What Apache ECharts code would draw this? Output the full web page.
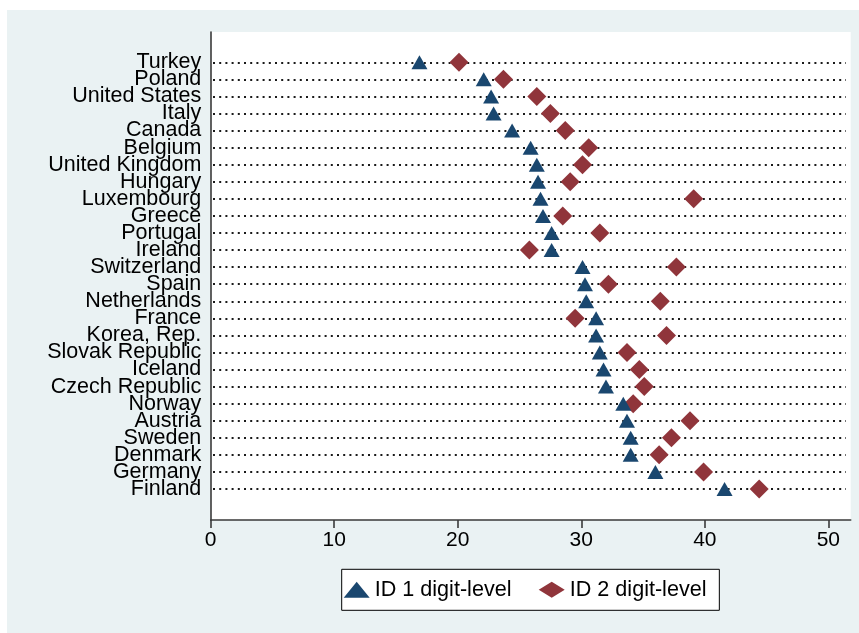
<!DOCTYPE html>
<html>
<head>
<meta charset="utf-8">
<script src="https://cdn.jsdelivr.net/npm/echarts@6/dist/echarts.min.js"></script>
<style>
  html, body { margin: 0; padding: 0; background: #ffffff; }
  #chart { position: absolute; left: 7px; top: 10px; width: 852px; height: 623px; }
</style>
</head>
<body>
<div id="chart"></div>
<script>
// Countries, top to bottom
const countries = [
  'Turkey', 'Poland', 'United States', 'Italy', 'Canada', 'Belgium',
  'United Kingdom', 'Hungary', 'Luxembourg', 'Greece', 'Portugal', 'Ireland',
  'Switzerland', 'Spain', 'Netherlands', 'France', 'Korea, Rep.',
  'Slovak Republic', 'Iceland', 'Czech Republic', 'Norway', 'Austria',
  'Sweden', 'Denmark', 'Germany', 'Finland'
];

// ID at 1-digit level
const id1 = [
  16.9, 22.1, 22.7, 22.9, 24.4, 25.9, 26.4, 26.5, 26.7, 26.9, 27.6, 27.6,
  30.1, 30.3, 30.4, 31.2, 31.2, 31.5, 31.8, 32.0, 33.4, 33.7, 34.0, 34.0,
  36.0, 41.6
];

// ID at 2-digit level
const id2 = [
  20.1, 23.7, 26.4, 27.5, 28.7, 30.6, 30.1, 29.1, 39.1, 28.5, 31.5, 25.8,
  37.7, 32.2, 36.4, 29.5, 36.9, 33.7, 34.7, 35.1, 34.2, 38.8, 37.3, 36.3,
  39.9, 44.4
];

// x-axis ticks
const xTicks = [0, 10, 20, 30, 40, 50];

const seriesNames = ['ID 1 digit-level', 'ID 2 digit-level'];

const FONT = "'Liberation Sans', Arial, Helvetica, sans-serif";
const AXIS_COLOR = '#3a3a3a';

const chart = echarts.init(document.getElementById('chart'), null, { renderer: 'canvas' });

const toPoints = (vals) => vals.map((v, i) => [v, countries[i]]);

const option = {
  animation: false,
  backgroundColor: '#eaf2f3',
  textStyle: { fontFamily: FONT },
  grid: [
    // frame: white plot region with the axes
    { left: 203.7, right: 8.3, top: 22, bottom: 113, show: true,
      backgroundColor: '#ffffff', borderWidth: 0, containLabel: false },
    // rows of markers with dotted guide lines
    { left: 206, right: 13, top: 52.3, bottom: 144, containLabel: false }
  ],
  xAxis: [
    {
      gridIndex: 0, type: 'value', min: 0, max: 51.81,
      axisLine: { show: true, onZero: false, lineStyle: { color: AXIS_COLOR, width: 1.6 } },
      axisTick: { show: true, length: 8, customValues: xTicks,
                  lineStyle: { color: AXIS_COLOR, width: 1.6 } },
      axisLabel: { show: true, customValues: xTicks, margin: 10,
                   fontSize: 21, color: '#000', fontFamily: FONT },
      splitLine: { show: false }
    },
    {
      gridIndex: 1, type: 'value', min: 0.186, max: 51.43, show: false,
      splitLine: { show: false }
    }
  ],
  yAxis: [
    {
      gridIndex: 0, type: 'value', min: 0, max: 1,
      axisLine: { show: true, onZero: false, lineStyle: { color: AXIS_COLOR, width: 1.6 } },
      axisTick: { show: false }, axisLabel: { show: false }, splitLine: { show: false }
    },
    {
      gridIndex: 1, type: 'category', data: countries, inverse: true, boundaryGap: false,
      axisLine: { show: false }, axisTick: { show: false },
      axisLabel: { show: true, margin: 11.7, fontSize: 21.5, color: '#000',
                   fontFamily: FONT, interval: 0 },
      splitLine: { show: true, interval: 0,
                   lineStyle: { color: '#1a1a1a', width: 2, type: [2, 4.2], cap: 'butt' } }
    }
  ],
  legend: {
    show: true,
    data: seriesNames,
    left: 334.7, top: 559.3,
    orient: 'horizontal',
    itemWidth: 26, itemHeight: 16, itemGap: 27.2,
    symbolKeepAspect: true,
    padding: [9.5, 12.8, 9.5, 2],
    backgroundColor: '#ffffff', borderColor: '#000000', borderWidth: 1, borderRadius: 0,
    textStyle: { fontSize: 21.6, color: '#000', fontFamily: FONT }
  },
  series: [
    {
      name: seriesNames[0], type: 'scatter', xAxisIndex: 1, yAxisIndex: 1,
      symbol: 'triangle', symbolSize: [16, 14], clip: false, z: 4,
      itemStyle: { color: '#1a476f', opacity: 1 },
      data: toPoints(id1)
    },
    {
      name: seriesNames[1], type: 'scatter', xAxisIndex: 1, yAxisIndex: 1,
      symbol: 'diamond', symbolSize: [19, 19], clip: false, z: 3,
      itemStyle: { color: '#90353b', opacity: 1 },
      data: toPoints(id2)
    }
  ]
};

chart.setOption(option);
</script>
</body>
</html>
